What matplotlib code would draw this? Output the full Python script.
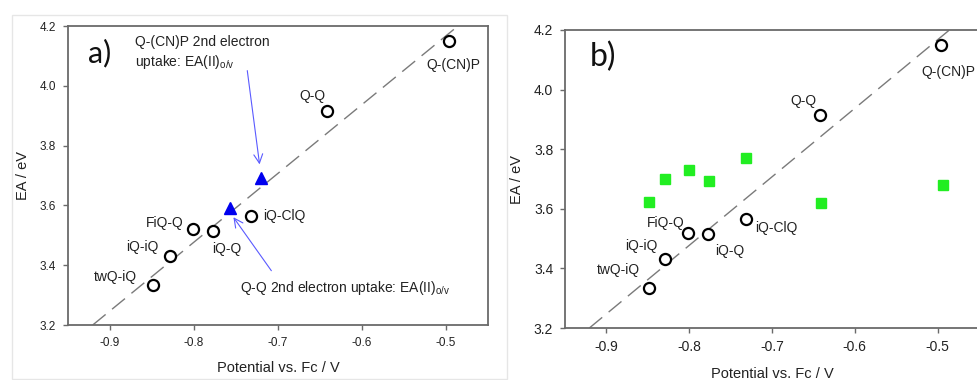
import numpy as np
import matplotlib
matplotlib.use("Agg")
import matplotlib.pyplot as plt
from matplotlib.patches import Rectangle

plt.rcParams["font.family"] = ["Liberation Sans", "DejaVu Sans"]

# -------------------------
# data
# -------------------------
names = ["twQ-iQ", "iQ-iQ", "FiQ-Q", "iQ-Q", "iQ-ClQ", "Q-Q", "Q-(CN)P"]
pot = [-0.849, -0.829, -0.801, -0.777, -0.732, -0.642, -0.496]
ea = [3.334, 3.431, 3.520, 3.514, 3.565, 3.916, 4.151]

# second electron uptake (panel a)
pot2 = [-0.720, -0.757]
ea2 = [3.693, 3.590]

# green squares (panel b)
pot_g = [-0.848, -0.829, -0.800, -0.776, -0.731, -0.641, -0.494]
ea_g = [3.622, 3.699, 3.729, 3.693, 3.771, 3.618, 3.679]

xticks = [-0.9, -0.8, -0.7, -0.6, -0.5]
yticks = [3.2, 3.4, 3.6, 3.8, 4.0, 4.2]

# label positions (left edge, vertical centre) per panel
lab_a = {
    "twQ-iQ": (-0.919, 3.361), "iQ-iQ": (-0.881, 3.461), "FiQ-Q": (-0.857, 3.541),
    "iQ-Q": (-0.779, 3.454), "iQ-ClQ": (-0.718, 3.565), "Q-Q": (-0.674, 3.966),
    "Q-(CN)P": (-0.523, 4.070),
}
lab_b = {
    "twQ-iQ": (-0.911, 3.395), "iQ-iQ": (-0.877, 3.475), "FiQ-Q": (-0.851, 3.552),
    "iQ-Q": (-0.769, 3.458), "iQ-ClQ": (-0.720, 3.536), "Q-Q": (-0.678, 3.962),
    "Q-(CN)P": (-0.519, 4.059),
}

slope, icpt = np.polyfit(pot, ea, 1)

W, H = 977, 380
fig = plt.figure(figsize=(W / 100, H / 100), dpi=100)

# faint frame around panel a
fig.patches.append(Rectangle((12 / W, 1 - 379 / H), 495 / W, 364 / H,
                             transform=fig.transFigure, fill=False,
                             ec="#e6e6e6", lw=1.0))

ax_a = fig.add_axes([68 / W, 1 - 325 / H, 420 / W, 299 / H])
ax_b = fig.add_axes([565 / W, 1 - 328 / H, 414 / W, 298 / H])

spine_col = "#6a6a6a"


def style(ax, tick_fs, xpad):
    ax.set_xlim(-0.95, -0.45)
    ax.set_ylim(3.2, 4.2)
    ax.set_xticks(xticks)
    ax.set_yticks(yticks)
    ax.set_xticklabels([f"{t:.1f}" for t in xticks])
    ax.set_yticklabels([f"{t:.1f}" for t in yticks])
    for s in ax.spines.values():
        s.set_color(spine_col)
        s.set_linewidth(1.3)
    ax.tick_params(direction="out", length=3.5, width=1, color=spine_col,
                   labelsize=tick_fs, labelcolor="#222222", pad=5)
    ax.set_xlabel("Potential vs. Fc / V", fontsize=10.5, color="#222222", labelpad=xpad)
    ax.set_ylabel("EA / eV", fontsize=10.5, color="#222222", labelpad=7)
    ax.axline((0, icpt), slope=slope, color="#7a7a7a", lw=1.0, dashes=(12, 6), zorder=1)
    ax.plot(pot, ea, "o", ms=8, mfc="white", mec="black", mew=1.6, zorder=3)


style(ax_a, 8.5, 9)
style(ax_b, 10, 9.5)

# panel a
ax_a.plot(pot2, ea2, "^", ms=8, color="#0000ee", zorder=4)
for n in names:
    x, y = lab_a[n]
    ax_a.text(x, y, n, fontsize=10, ha="left", va="center", color="#222222")
ax_a.text(-0.926, 4.11, "a)", fontsize=22, family=["Lato", "DejaVu Sans"],
          ha="left", va="center", color="#111111")

arrow_kw = dict(arrowstyle="->", color="#5a5aff", lw=0.8, mutation_scale=16)
ax_a.annotate("", xy=(-0.7215, 3.728), xytext=(-0.737, 4.06), arrowprops=arrow_kw)
ax_a.annotate("", xy=(-0.755, 3.568), xytext=(-0.706, 3.374), arrowprops=arrow_kw)
ax_a.text(-0.870, 4.17, "Q-(CN)P 2nd electron\nuptake: EA(II)$_{\\mathregular{o/v}}$",
          fontsize=10, ha="left", va="top", color="#222222", linespacing=1.3)
ax_a.text(-0.745, 3.324, "Q-Q 2nd electron uptake: EA(II)$_{\\mathregular{o/v}}$",
          fontsize=10, ha="left", va="center", color="#222222")

# panel b
ax_b.plot(pot_g, ea_g, "s", ms=7, color="#22ee22", zorder=4)
for n in names:
    x, y = lab_b[n]
    ax_b.text(x, y, n, fontsize=10, ha="left", va="center", color="#222222",
              clip_on=False)
ax_b.text(-0.92, 4.11, "b)", fontsize=23, family=["Lato", "DejaVu Sans"],
          ha="left", va="center", color="#111111")

fig.savefig("out.png", dpi=100)
